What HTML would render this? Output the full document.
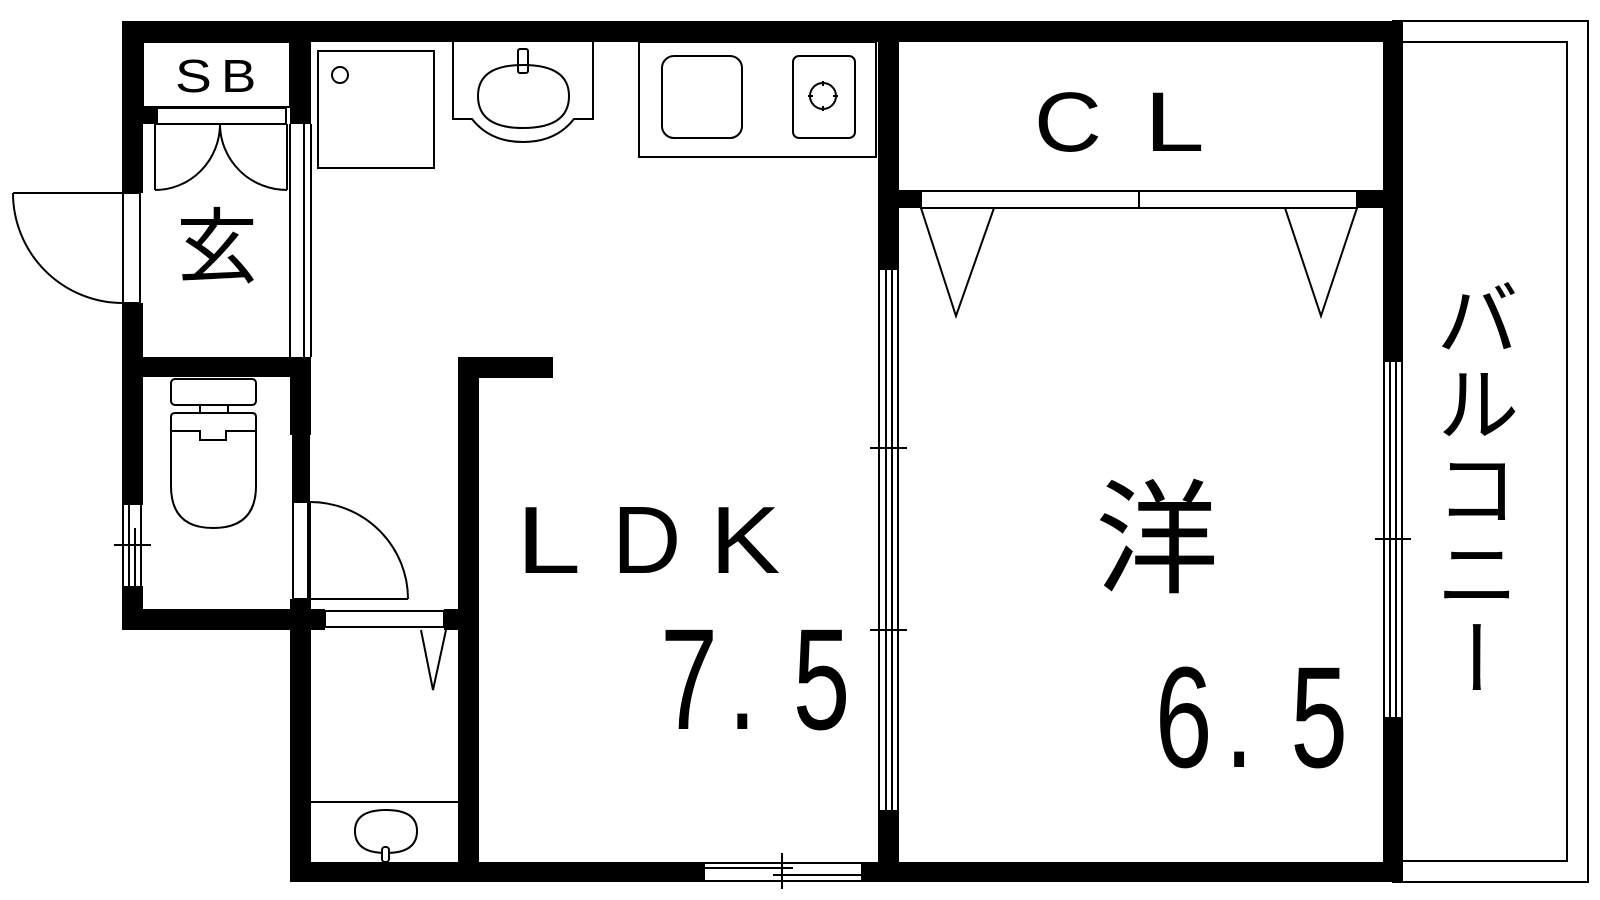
<!DOCTYPE html>
<html><head><meta charset="utf-8"><style>
html,body{margin:0;padding:0;background:#fff;}
#wrap{position:relative;width:1600px;height:900px;overflow:hidden;}
svg{position:absolute;left:0;top:0;}
.t{font-family:"Liberation Sans","Noto Sans CJK JP",sans-serif;fill:#000;}
#bal{position:absolute;left:1435px;top:276px;width:85px;font-family:"Noto Sans CJK JP","Liberation Sans",sans-serif;font-size:84px;line-height:85px;writing-mode:vertical-rl;letter-spacing:1px;color:#000;}
</style></head><body><div id="wrap">
<svg width="1600" height="900" viewBox="0 0 1600 900" xmlns="http://www.w3.org/2000/svg">
<g fill="#000">
<rect x="122" y="21" width="1281" height="21"/>
<rect x="122" y="21" width="21" height="172"/>
<rect x="122" y="303" width="21" height="201"/>
<rect x="122" y="587" width="21" height="43"/>
<rect x="290" y="21" width="21" height="103"/>
<rect x="143" y="108" width="14" height="16"/>
<rect x="122" y="357" width="189" height="20"/>
<rect x="290" y="357" width="21" height="78"/>
<rect x="292" y="435" width="18" height="67"/>
<rect x="290" y="599" width="21" height="31"/>
<rect x="122" y="609" width="203" height="21"/>
<rect x="444" y="609" width="35" height="21"/>
<rect x="290" y="609" width="21" height="273"/>
<rect x="458" y="357" width="21" height="525"/>
<rect x="458" y="357" width="95" height="21"/>
<rect x="290" y="862" width="414" height="20"/>
<rect x="862" y="862" width="541" height="20"/>
<rect x="878" y="21" width="21" height="249"/>
<rect x="878" y="810" width="21" height="72"/>
<rect x="899" y="190" width="22" height="18"/>
<rect x="1357" y="190" width="26" height="18"/>
<rect x="1383" y="21" width="20" height="341"/>
<rect x="1383" y="717" width="20" height="165"/>
</g>
<g fill="none" stroke="#000" stroke-width="2">
<rect x="123" y="193" width="17" height="110"/>
<path d="M13,193 A110,110 0 0 0 123,303"/>
<line x1="13" y1="193" x2="123" y2="193"/>
<rect x="143" y="42" width="147" height="65"/>
<rect x="157" y="108" width="129" height="16"/>
<line x1="155" y1="124" x2="155" y2="190"/>
<line x1="287" y1="124" x2="287" y2="190"/>
<path d="M155,190 A65,66 0 0 0 220,124"/>
<path d="M287,190 A67,66 0 0 1 220,124"/>
<line x1="290" y1="124" x2="290" y2="357"/>
<line x1="304" y1="124" x2="304" y2="357"/>
<line x1="311" y1="124" x2="311" y2="357"/>
<rect x="318" y="51" width="116" height="117"/>
<circle cx="340" cy="75" r="8"/>
<path d="M453,42 L453,119 L472,119 Q490,142 523,142 Q556,142 574,119 L593,119 L593,42"/>
<path d="M478,96 Q478,65 523,65 Q569,65 569,96 Q569,128 523,128 Q478,128 478,96 Z"/>
<rect x="518" y="49" width="10" height="24" rx="2"/>
<rect x="639" y="42" width="237" height="115"/>
<rect x="662" y="56" width="80" height="82" rx="12"/>
<rect x="793" y="56" width="62" height="82" rx="6"/>
<circle cx="823" cy="96" r="13"/>
<line x1="823" y1="81" x2="823" y2="86"/><line x1="823" y1="106" x2="823" y2="111"/>
<line x1="808" y1="96" x2="813" y2="96"/><line x1="833" y1="96" x2="838" y2="96"/>
<rect x="171" y="379" width="85" height="26" rx="4"/>
<rect x="200" y="405" width="28" height="8"/>
<path d="M171,486 L171,417 Q171,413 175,413 L252,413 Q256,413 256,417 L256,486 Q256,528 213,528 Q171,528 171,486 Z"/>
<path d="M171,431 L200,431 L200,440 L226,440 L226,431 L256,431"/>
<line x1="123" y1="504" x2="123" y2="587"/>
<line x1="129" y1="504" x2="129" y2="587"/>
<line x1="135" y1="528" x2="135" y2="587"/>
<line x1="141" y1="504" x2="141" y2="587"/>
<line x1="123" y1="504" x2="143" y2="504"/>
<line x1="123" y1="587" x2="143" y2="587"/>
<line x1="114" y1="545" x2="151" y2="545"/>
<rect x="293" y="502" width="15" height="97"/>
<line x1="310" y1="502" x2="310" y2="599"/>
<path d="M310,502 A98,97 0 0 1 408,599"/>
<line x1="310" y1="599" x2="408" y2="599"/>
<rect x="325" y="611" width="119" height="16"/>
<path d="M421,630 L433,690 L446,630"/>
<line x1="311" y1="802" x2="458" y2="802"/>
<path d="M355,831 Q355,810 386,810 Q417,810 417,831 Q417,853 386,853 Q355,853 355,831 Z"/>
<rect x="382" y="847" width="7" height="15" rx="3" fill="#fff"/>
<rect x="704" y="863" width="158" height="18"/>
<line x1="704" y1="868" x2="793" y2="868"/>
<line x1="773" y1="875" x2="862" y2="875"/>
<line x1="782" y1="853" x2="782" y2="889"/>
<line x1="879" y1="270" x2="879" y2="810"/>
<line x1="886" y1="270" x2="886" y2="810"/>
<line x1="892" y1="270" x2="892" y2="810"/>
<line x1="898" y1="270" x2="898" y2="810"/>
<line x1="870" y1="448" x2="907" y2="448"/>
<line x1="870" y1="630" x2="907" y2="630"/>
<rect x="921" y="191" width="436" height="17"/>
<line x1="1139" y1="191" x2="1139" y2="208"/>
<path d="M921,208 L956,316 L994,208"/>
<path d="M1285,208 L1321,316 L1357,208"/>
<line x1="1384" y1="362" x2="1384" y2="717"/>
<line x1="1390" y1="362" x2="1390" y2="717"/>
<line x1="1396" y1="362" x2="1396" y2="717"/>
<line x1="1402" y1="362" x2="1402" y2="717"/>
<line x1="1375" y1="539" x2="1411" y2="539"/>
<path d="M1392,21 L1588,21 L1588,882 L1392,882"/>
<path d="M1403,42 L1567,42 L1567,861 L1403,861"/>
</g>
<text class="t" font-size="46" transform="translate(175,92) scale(1.2,1)">S</text>
<text class="t" font-size="46" transform="translate(221,92) scale(1.15,1)">B</text>
<text class="t" x="217" y="276" font-size="82" text-anchor="middle">玄</text>
<text class="t" font-size="84" transform="translate(1034,151) scale(1.12,1)">C</text>
<text class="t" font-size="84" transform="translate(1144,151) scale(1.3,1)">L</text>
<text class="t" font-size="96" transform="translate(516,573) scale(1.22,1)">L</text>
<text class="t" font-size="96" x="612" y="573">D</text>
<text class="t" font-size="96" transform="translate(710,573) scale(1.1,1)">K</text>
<g transform="translate(0,729) scale(0.72,1)">
<text class="t" x="917" y="0" font-size="144">7</text>
<text class="t" x="1011" y="0" font-size="144">.</text>
<text class="t" x="1101" y="0" font-size="144">5</text>
</g>
<text class="t" x="1157" y="583" font-size="124" text-anchor="middle">洋</text>
<g transform="translate(0,767) scale(0.72,1)">
<text class="t" x="1604" y="0" font-size="144">6</text>
<text class="t" x="1701" y="0" font-size="144">.</text>
<text class="t" x="1792" y="0" font-size="144">5</text>
</g>
</svg>
<div id="bal">バルコニー</div>
</div></body></html>
